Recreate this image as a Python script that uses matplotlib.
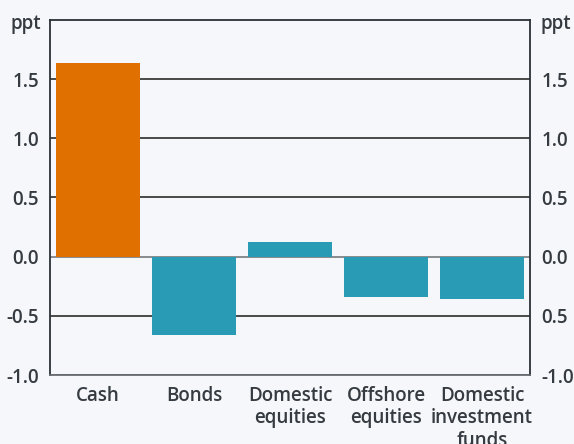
import matplotlib.pyplot as plt

categories = ["Cash", "Bonds", "Domestic\nequities", "Offshore\nequities", "Domestic\ninvestment\nfunds"]
values = [1.64, -0.66, 0.125, -0.34, -0.355]
colors = ["#e07000", "#2a9bb5", "#2a9bb5", "#2a9bb5", "#2a9bb5"]

left_ticks = [-1.0, -0.5, 0.0, 0.5, 1.0, 1.5]
left_labels = ["-1.0", "-0.5", "0.0", "0.5", "1.0", "1.5"]
right_labels = ["-1.0", "0.5", "0.0", "0.5", "1.0", "1.5"]

plt.rcParams['font.family'] = ['Open Sans', 'DejaVu Sans']
plt.rcParams['font.weight'] = 'semibold'
txt = '#353b41'
bg = '#f5f7fa'
fs = 13.5

fig = plt.figure(figsize=(5.74, 4.44), dpi=100, facecolor=bg)
ax = fig.add_axes([50 / 574, 69 / 444, 480 / 574, 355 / 444])
ax.set_facecolor(bg)

# gridlines at each tick
for t in left_ticks:
    ax.axhline(t, color='#1a1a1a' if t != 0 else '#6a6e72', linewidth=1.1, zorder=1)

ax.bar(range(len(values)), values, width=0.865, color=colors, zorder=2)

ax.set_xlim(-0.5, len(values) - 0.5)
ax.set_ylim(-1.0, 2.0)
ax.set_yticks(left_ticks)
ax.set_yticklabels(left_labels)
ax.set_xticks(range(len(values)))
ax.set_xticklabels(categories, linespacing=1.15)
ax.tick_params(axis='both', length=0, labelsize=fs, colors=txt)
ax.tick_params(axis='y', pad=8)
ax.tick_params(axis='x', pad=8)

for s in ['left', 'right', 'top']:
    ax.spines[s].set_color('#2b3035')
    ax.spines[s].set_linewidth(1.3)
ax.spines['bottom'].set_color('#6a6e72')
ax.spines['bottom'].set_linewidth(1.3)

ax2 = ax.twinx()
ax2.set_ylim(ax.get_ylim())
ax2.set_yticks(left_ticks)
ax2.set_yticklabels(right_labels)
ax2.tick_params(axis='y', length=0, labelsize=fs, colors=txt, pad=8)
for s in ax2.spines.values():
    s.set_visible(False)

fig.text(41 / 574, 1 - 24 / 444, "ppt", ha='right', va='center', fontsize=fs, color=txt)
fig.text(540 / 574, 1 - 24 / 444, "ppt", ha='left', va='center', fontsize=fs, color=txt)

fig.savefig("out.png", dpi=100, facecolor=bg)
